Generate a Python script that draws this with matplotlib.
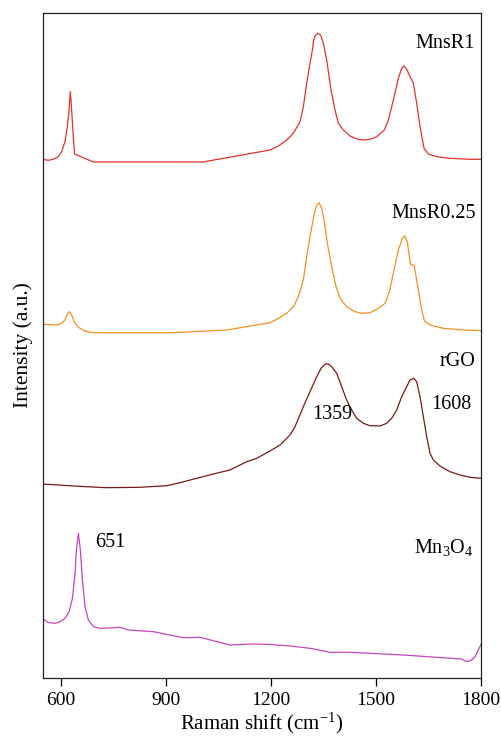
import matplotlib
matplotlib.use("Agg")
import matplotlib.pyplot as plt

plt.rcParams["font.family"] = ["Liberation Serif", "DejaVu Serif"]
plt.rcParams["mathtext.fontset"] = "custom"
plt.rcParams["mathtext.rm"] = "Liberation Serif"
plt.rcParams["mathtext.it"] = "Liberation Serif:italic"

# Raman spectra (wavenumber in cm^-1, relative intensity in a.u.)
mnsr1_x = [550, 565, 579.5, 593.7, 603.2, 612.8, 619.4, 624.2, 628, 631.8, 636.5,
           640.3, 693.6, 1005.6, 1198, 1221.7, 1245.5, 1264.5, 1283.5, 1293,
           1302.5, 1312, 1319.7, 1321.6, 1326.3, 1334, 1342.5, 1350.1, 1359.6,
           1372, 1383.4, 1393, 1407.2, 1426.2, 1445.2, 1464.3, 1483.3, 1502.3,
           1524.2, 1535.6, 1549.9, 1564.1, 1573.7, 1580.3, 1588, 1597.5, 1607,
           1616.5, 1626, 1637.4, 1649.8, 1673.5, 1711.6, 1768.7, 1800]
mnsr1_y = [3.7, 2.7, 3.7, 6.3, 11.3, 21.3, 36.3, 53, 71.3, 53, 26.3,
           9, 1, 1, 13, 17, 23, 29.7, 41.3, 56.3,
           79.7, 99.7, 114.7, 121.3, 127, 129.7, 128, 119.7, 103,
           73, 53, 39.7, 33, 27, 24, 23, 23.7, 26.3,
           33, 43, 63, 84.7, 94.7, 97, 93.7, 86.3, 79.7,
           59.7, 36.3, 14.7, 9, 6.3, 4.7, 3.7, 3.7]

mnsr025_x = [550, 589, 603.2, 612.8, 619.4, 625.1, 631.8, 638.4, 650.8, 669.8,
             693.6, 921.9, 1074.1, 1198, 1221.7, 1245.5, 1264.5, 1278.8, 1293,
             1302.5, 1312, 1323.5, 1331.1, 1337.7, 1345.4, 1353, 1361.5, 1373.9,
             1386.3, 1397.7, 1416.7, 1440.5, 1459.5, 1483.3, 1507.1, 1526.1,
             1538.5, 1551.8, 1564.1, 1575.6, 1582.2, 1589.8, 1597.5, 1599.4,
             1608.9, 1621.3, 1630.8, 1638.3, 1654.5, 1692.6, 1749.7, 1800]
mnsr025_y = [8.7, 8, 9.7, 13, 19, 21.3, 18, 11.3, 5.7, 2,
             0.3, 0.3, 3, 10.3, 14.7, 19.7, 26.3, 36.3, 53,
             76.3, 96.3, 118, 128, 130.3, 124.7, 111.3, 89.7, 66.3,
             46.3, 34.7, 26.3, 21.3, 19.7, 20.3, 24.7, 29.7,
             41.3, 63, 83, 94.7, 97, 91.3, 71.3, 68,
             68, 43, 23, 12.3, 8, 4.7, 3, 2.3]

rgo_x = [550, 636.5, 731.7, 826.8, 903, 941, 988.5, 1036, 1083.6, 1112.2,
         1131.2, 1159.7, 1198, 1226.4, 1255, 1269.2, 1293, 1312, 1331, 1345.4,
         1354.9, 1359, 1364.4, 1374, 1388.2, 1402.4, 1416.7, 1431, 1445.2,
         1464.3, 1483.3, 1511.8, 1530.9, 1545.1, 1559.4, 1573.7, 1588, 1597.5,
         1608, 1616.5, 1626, 1635.5, 1645, 1654.5, 1664, 1683, 1711.6, 1740.2,
         1768.7, 1800]
rgo_y = [4, 2, 0.3, 0.7, 2.3, 5.3, 9.7, 14, 18, 23,
         26.3, 29.7, 37, 43, 53, 61.3, 81.3, 96.3, 111.3, 120.7,
         123.7, 124.3, 124, 121.3, 114.7, 101.3, 88, 78, 69.7,
         64.7, 62.3, 62, 64.7, 69.7, 78, 91.3, 101.3, 108,
         109.7, 106.3, 91.3, 71.3, 51.3, 34.7, 28, 22, 16.3, 13,
         10.7, 9.7]

mn3o4_x = [550, 565, 585, 599, 613, 624.4, 634, 641.5, 645.3, 651, 656.7, 662.4,
           670, 679.5, 694, 712, 740, 769.7, 793.5, 864.8, 950.5, 998, 1083.6,
           1150.2, 1198, 1255, 1312, 1369.1, 1426.2, 1578.4, 1744.9, 1754.4,
           1763.9, 1773.4, 1783, 1792.5, 1800]
mn3o4_y = [44, 40.5, 39.7, 41.3, 44.7, 51.3, 64.7, 89.7, 113, 129.7, 113, 83,
           56.3, 43, 36.3, 34.7, 35, 35.7, 33, 31.3, 25.3, 25.7, 18,
           19, 18.5, 17, 14.7, 10.7, 10.7, 8, 4, 2,
           1.7, 3, 6.3, 13, 18.7]

# vertical stacking offsets for each trace
offsets = {"MnsR1": 515, "MnsR0.25": 345, "rGO": 190, "Mn3O4": 15}
colors = {"MnsR1": "#e5312a", "MnsR0.25": "#f39020", "rGO": "#7a1a14", "Mn3O4": "#c445bd"}

rgo_peaks = [1359, 1608]
mn3o4_peak = 651

x_ticks = [600, 900, 1200, 1500, 1800]

fig = plt.figure(figsize=(5.02, 7.44), dpi=100)
ax = fig.add_axes([43 / 502, 1 - 678 / 744, 438 / 502, 665 / 744])

series = [
    ("MnsR1", mnsr1_x, mnsr1_y),
    ("MnsR0.25", mnsr025_x, mnsr025_y),
    ("rGO", rgo_x, rgo_y),
    ("Mn3O4", mn3o4_x, mn3o4_y),
]
for name, xs, ys in series:
    off = offsets[name]
    ax.plot(xs, [v + off for v in ys], color=colors[name], lw=0.9,
            solid_joinstyle="round")

ax.set_xlim(550, 1800)
ax.set_ylim(0, 665)
ax.set_xticks(x_ticks)
ax.set_yticks([])
ax.tick_params(axis="x", direction="out", length=6, width=0.9, labelsize=14, pad=4)
for sp in ax.spines.values():
    sp.set_linewidth(0.9)
    sp.set_color("#222222")

ax.set_xlabel(r"Raman shift (cm$^{-1}$)", fontsize=15, labelpad=1)
ax.set_ylabel("Intensity (a.u.)", fontsize=15.5, labelpad=7)

# trace names at the right edge
label_fs = 14.5
ax.text(1782, offsets["MnsR1"] + 120, "MnsR1", ha="right", va="center", fontsize=label_fs)
ax.text(1785, offsets["MnsR0.25"] + 120, "MnsR0.25", ha="right", va="center", fontsize=label_fs)
ax.text(1785, offsets["rGO"] + 127, "rGO", ha="right", va="center", fontsize=label_fs)
ax.text(1779, offsets["Mn3O4"] + 115, r"Mn$_3$O$_4$", ha="right", va="center", fontsize=label_fs)

# peak positions
rgo_top = dict(zip(rgo_x, rgo_y))
ax.annotate(f"{rgo_peaks[0]}", xy=(rgo_peaks[0], offsets["rGO"] + rgo_top[rgo_peaks[0]]),
            xytext=(4.3, -36.7), textcoords="offset points",
            ha="center", va="center", fontsize=label_fs)
ax.annotate(f"{rgo_peaks[1]}", xy=(rgo_peaks[1], offsets["rGO"] + rgo_top[rgo_peaks[1]]),
            xytext=(27, -19), textcoords="offset points",
            ha="center", va="center", fontsize=label_fs)
mn_top = dict(zip(mn3o4_x, mn3o4_y))
ax.annotate(f"{mn3o4_peak}", xy=(mn3o4_peak, offsets["Mn3O4"] + mn_top[mn3o4_peak]),
            xytext=(12, -6.3), textcoords="offset points",
            ha="left", va="center", fontsize=label_fs)

fig.savefig("out.png", dpi=100)
